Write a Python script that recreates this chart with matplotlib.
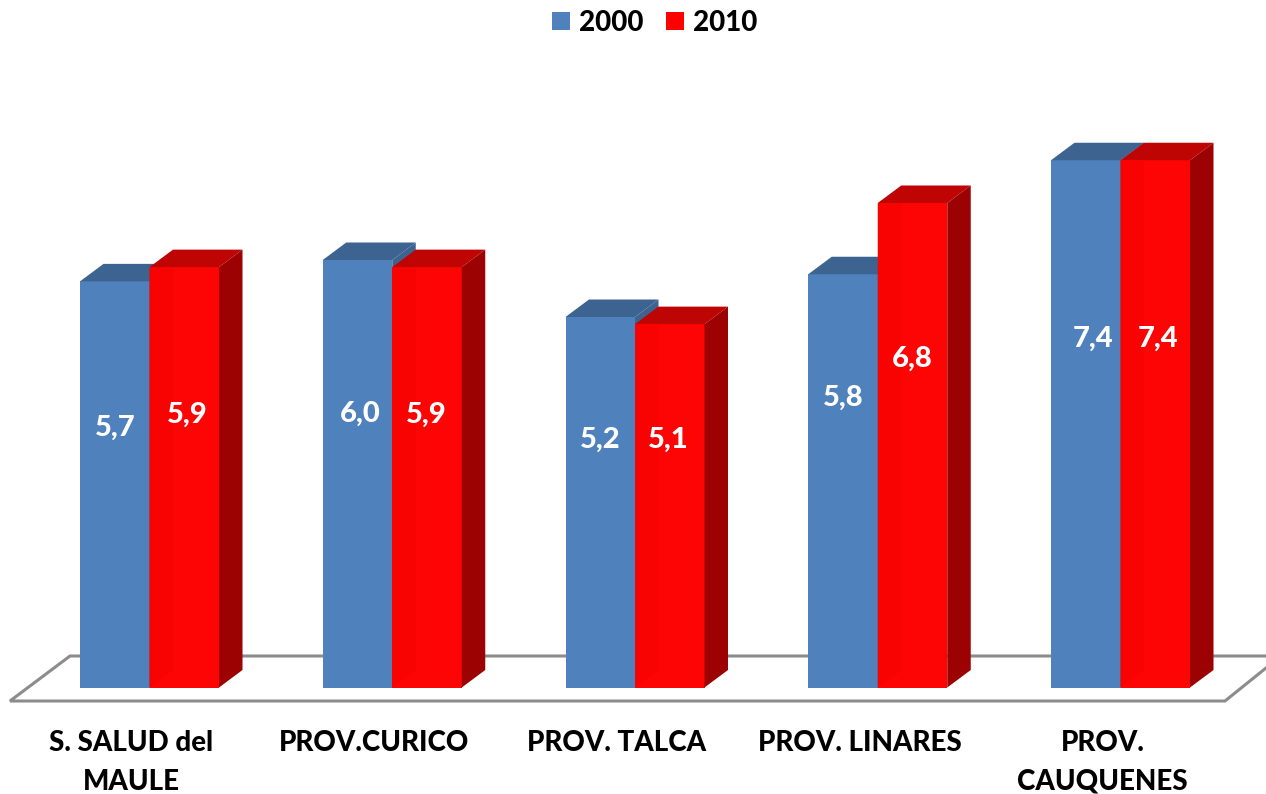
import numpy as np
import matplotlib
matplotlib.use('Agg')
import matplotlib.pyplot as plt
from matplotlib.patches import Polygon

# data
categories = ['S. SALUD del\nMAULE', 'PROV.CURICO', 'PROV. TALCA', 'PROV. LINARES', 'PROV.\nCAUQUENES']
values_2000 = [5.7, 6.0, 5.2, 5.8, 7.4]
values_2010 = [5.9, 5.9, 5.1, 6.8, 7.4]
value_labels_2000 = ['5,7', '6,0', '5,2', '5,8', '7,4']
value_labels_2010 = ['5,9', '5,9', '5,1', '6,8', '7,4']

# where the labels sit in the picture (x offset from bar centre, height in px)
label_dx_2000 = [0, 3, 0, 0, 7]
label_dx_2010 = [3, -1, -1, 0, 3]
label_y_2000 = [428, 414, 440, 398, 339]
label_y_2010 = [415, 415, 440, 359, 339]

W, H = 1266, 794
GROUP_PX = 242.75   # px between groups
UNIT_PX = 71.25     # px per unit of value
X0_PX, Y0_PX = 149.5, 687.5  # where category 0 / value 0 sit
bar_w = 69.5 / GROUP_PX
dx = 23.5 / GROUP_PX   # 3d depth
dy = 17.5 / UNIT_PX

plt.rcParams['font.family'] = ['Lato', 'DejaVu Sans']
fig = plt.figure(figsize=(W / 100, H / 100), dpi=100)
ax = fig.add_axes([0, 0, 1, 1])
ax.set_xlim(-X0_PX / GROUP_PX, (W - X0_PX) / GROUP_PX)
ax.set_ylim(-(H - Y0_PX) / UNIT_PX, Y0_PX / UNIT_PX)
ax.axis('off')


def px(x, y):
    return ((x - X0_PX) / GROUP_PX, (Y0_PX - y) / UNIT_PX)


# floor of the 3d chart
floor_pts = [(1266, 668), (1225, 701), (10, 701), (70, 656), (1266, 656)]
ax.plot(*zip(*[px(*p) for p in floor_pts]), color='#8c8c8c', lw=2.2, zorder=1,
        solid_joinstyle='miter')


def draw_bar(x, v, front, top, side, zo):
    # x is the left edge of the front face
    ax.bar(x, v, bar_w, align='edge', color=front, zorder=zo)
    ax.add_patch(Polygon([(x, v), (x + dx, v + dy), (x + bar_w + dx, v + dy), (x + bar_w, v)],
                         color=top, lw=0, zorder=zo))
    ax.add_patch(Polygon([(x + bar_w, 0), (x + bar_w + dx, dy), (x + bar_w + dx, v + dy), (x + bar_w, v)],
                         color=side, lw=0, zorder=zo))


x = np.arange(len(categories))
for i in x:
    draw_bar(i - bar_w, values_2000[i], '#4f81bd', '#3d6390', '#3d6390', 2 + i * 0.1)
    draw_bar(i, values_2010[i], '#fe0505', '#bf0404', '#9c0202', 3 + i * 0.1)
    # faint inner wall seen through the red front
    v = values_2010[i]
    ax.add_patch(Polygon([(i, 0), (i + dx, dy), (i + dx, v), (i, v)], color='#f80202', lw=0,
                         zorder=3.05 + i * 0.1))
    ax.text(i - bar_w / 2 + label_dx_2000[i] / GROUP_PX, px(0, label_y_2000[i])[1], value_labels_2000[i],
            color='white', fontsize=21, fontweight='black', ha='center', va='center', zorder=6)
    ax.text(i + bar_w / 2 + label_dx_2010[i] / GROUP_PX, px(0, label_y_2010[i])[1], value_labels_2010[i],
            color='white', fontsize=21, fontweight='black', ha='center', va='center', zorder=6)
    ax.text(i - 0.074, px(0, 730)[1], categories[i], fontsize=20, fontweight='black',
            ha='center', va='top', color='black', linespacing=1.6)

# legend
for lx, col, lab in [(552, '#4f81bd', '2000'), (666, '#fe0000', '2010')]:
    ax.add_patch(Polygon([px(lx, 12), px(lx + 18, 12), px(lx + 18, 30), px(lx, 30)], color=col, lw=0))
    ax.text(*px(lx + 27, 23), lab, fontsize=20, fontweight='black', ha='left', va='center')

fig.savefig('out.png', dpi=100)
